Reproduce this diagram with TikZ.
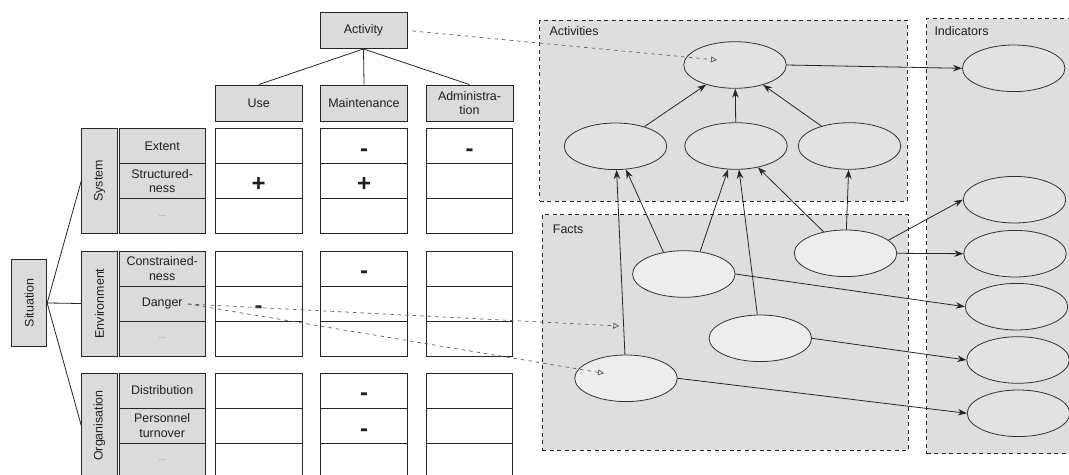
\documentclass[tikz,border=0pt]{standalone}
\usepackage{fontspec}
\setmainfont{Liberation Sans}
\usetikzlibrary{arrows.meta,shapes.geometric}

\definecolor{boxgray}{gray}{0.86}
\definecolor{panelgray}{gray}{0.87}
\definecolor{factfill}{gray}{0.93}
\definecolor{ovalfill}{gray}{0.885}
\definecolor{inkgray}{gray}{0.12}
\definecolor{hintgray}{gray}{0.38}

\begin{document}
\begin{tikzpicture}[x=1bp,y=-1bp,
  every node/.style={text=inkgray},
  txt/.style={font=\fontsize{12.5}{14.5}\selectfont},
  box/.style={draw=black!85, line width=0.9bp, inner sep=0pt, align=center, txt},
  hdr/.style={box, fill=boxgray, minimum width=87bp, minimum height=36bp},
  lbl/.style={box, fill=boxgray, minimum width=86.5bp, minimum height=35bp},
  cell/.style={box, fill=white, minimum width=86.8bp, minimum height=35bp,
    text height=21bp, text depth=0bp,
    font=\fontsize{24}{24}\selectfont\bfseries},
  grp/.style={box, fill=boxgray, minimum width=105bp, minimum height=35.6bp, rotate=90},
  panel/.style={draw=black!85, fill=panelgray, line width=1bp,
    dash pattern=on 4bp off 3.5bp, inner sep=0pt, anchor=north west},
  plbl/.style={txt, inner sep=0pt, anchor=north west},
  oval/.style={ellipse, draw=black!80, line width=0.8bp, fill=ovalfill,
    minimum width=102.5bp, minimum height=46.6bp, inner sep=0pt},
  fact/.style={oval, fill=factfill},
  tree/.style={draw=black!85, line width=0.8bp},
  link/.style={draw=black!85, line width=0.8bp, -{Stealth[length=9bp,width=6.5bp]}},
  hint/.style={draw=hintgray, line width=0.7bp, dash pattern=on 3.5bp off 4bp,
    -{Triangle[open,length=6bp,width=6bp,line width=0.8bp]}}
]
\useasboundingbox (0,0) rectangle (1069,475);
\clip (0,0) rectangle (1069,475);

% ---------- situation / activity matrix ----------
\node[hdr] (activity) at (363.5,30.5) {Activity};
\node[hdr] (use) at (258.7,103) {Use};
\node[hdr] (maint) at (364,103) {Maintenance};
\node[hdr] (admin) at (469.5,103) {Administra-\\tion};
\draw[tree] (activity.south) -- (use.north);
\draw[tree] (activity.south) -- (maint.north);
\draw[tree] (activity.south) -- (admin.north);

\node[box, fill=boxgray, minimum width=87.4bp, minimum height=35bp, rotate=90]
  (situation) at (29.2,303) {Situation};

\node[grp] (system) at (99.5,181) {System};
\node[grp] (environment) at (99.5,303.5) {Environment};
\node[grp] (organisation) at (99.5,425.5) {Organisation};

\draw[tree] (situation.south) -- (system.north);
\draw[tree] (situation.south) -- (environment.north);
\draw[tree] (situation.south) -- (organisation.north);

% one row per factor: label, then the Use / Maintenance / Administration cells
\foreach \n/\y/\t/\u/\m/\d in {
  sysA/146/{Extent}/{}/{-}/{-},
  sysB/181/{Structured-\\ness}/{+}/{+}/{},
  sysC/216/{{\fontsize{8}{8}\selectfont\color{black!45}...}}/{}/{}/{},
  envA/268.5/{Constrained-\\ness}/{}/{-}/{},
  envB/303.5/{Danger}/{-}/{}/{},
  envC/338.5/{{\fontsize{8}{8}\selectfont\color{black!45}...}}/{}/{}/{},
  orgA/390.5/{Distribution}/{}/{-}/{},
  orgB/425.5/{Personnel\\turnover}/{}/{-}/{},
  orgC/460.5/{{\fontsize{8}{8}\selectfont\color{black!45}...}}/{}/{}/{}}
{
  \node[lbl] (\n-lbl) at (162.2,\y) {\t};
  \node[cell] (\n-use) at (258.7,\y) {\u};
  \node[cell] (\n-mnt) at (364,\y) {\m};
  \node[cell] (\n-adm) at (469.5,\y) {\d};
}

% ---------- model panels ----------
\node[panel, minimum width=367.4bp, minimum height=181bp] (actpanel) at (539.3,20) {};
\node[panel, minimum width=366bp, minimum height=235bp] (factpanel) at (541.7,214.5) {};
\node[panel, minimum width=170bp, minimum height=435bp] (indpanel) at (926,18.3) {};
\node[plbl] (actlbl) at (549.3,26) {Activities};
\node[plbl] (factlbl) at (552.7,225) {Facts};
\node[plbl] (indlbl) at (934.3,26.7) {Indicators};

% activities
\node[oval] (At) at (735,65) {};
\node[oval] (A1) at (615.5,146.3) {};
\node[oval] (A2) at (736,146) {};
\node[oval] (A3) at (849.5,146) {};

% indicators
\node[oval] (I1) at (1013.7,68.3) {};
\node[oval] (I2) at (1014.5,199.7) {};
\node[oval] (I3) at (1015,253.7) {};
\node[oval] (I4) at (1016.5,306.7) {};
\node[oval] (I5) at (1018,360) {};
\node[oval] (I6) at (1018.5,413.3) {};

% facts
\node[fact] (F1) at (845.5,253.3) {};
\node[fact] (F2) at (683.8,274) {};
\node[fact] (F3) at (760.3,338.3) {};
\node[fact] (F4) at (626,378.3) {};

% activity hierarchy
\draw[link] (A1) -- (At);
\draw[link] (A2) -- (At);
\draw[link] (A3) -- (At);
\draw[link] (At.east) -- (I1.west);

% facts feeding activities
\draw[link] (F4) -- (A1);
\draw[link] (F2.133) -- (A1);
\draw[link] (F2.54) -- (A2);
\draw[link] (F3) -- (A2);
\draw[link] (F1) -- (A2);
\draw[link] (F1) -- (A3);

% facts feeding indicators
\draw[link] (F1.17) -- (I2.west);
\draw[link] (F1.east) -- (I3.west);
\draw[link] (F2.east) -- (I4.west);
\draw[link] (F3.east) -- (I5.west);
\draw[link] (F4.east) -- (I6.west);

% mapping from the matrix into the model
\coordinate (dangerout) at (188,304);
\coordinate (tipAt) at (717,60);
\coordinate (tipF2) at (619.3,326);
\coordinate (tipF4) at (604,373.3);
\draw[hint, shorten <=5bp] (activity.east) -- (tipAt);
\draw[hint] (dangerout) -- (tipF2);
\draw[hint] (dangerout) -- (tipF4);
\end{tikzpicture}
\end{document}
